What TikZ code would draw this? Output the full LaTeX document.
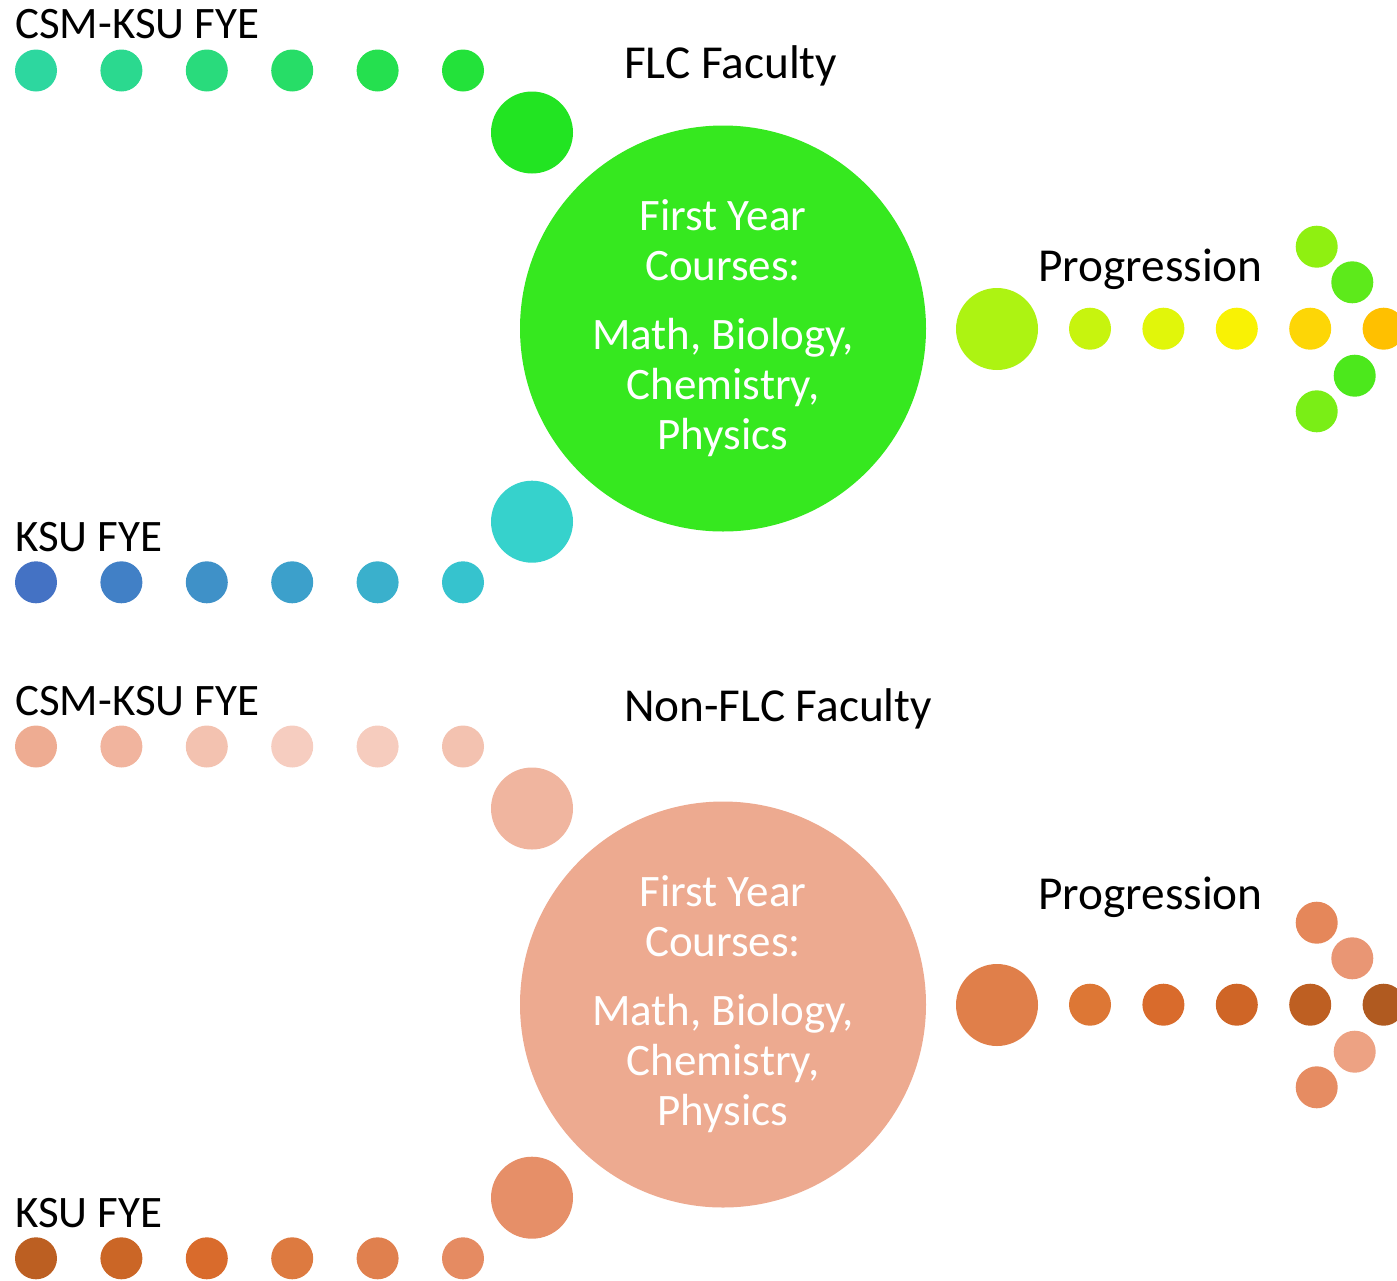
\documentclass[tikz,border=0pt]{standalone}
\usepackage{fontspec}
\setmainfont{Carlito}
\usepackage{tikz}
\usetikzlibrary{positioning}
% top panel
\definecolor{gA}{HTML}{2DD79F}
\definecolor{gB}{HTML}{2BD98F}
\definecolor{gC}{HTML}{29DB7C}
\definecolor{gD}{HTML}{27DD67}
\definecolor{gE}{HTML}{25E04F}
\definecolor{gF}{HTML}{23E23A}
\definecolor{gHub}{HTML}{22E422}
\definecolor{bA}{HTML}{4472C4}
\definecolor{bB}{HTML}{4180C6}
\definecolor{bC}{HTML}{3F91C8}
\definecolor{bD}{HTML}{3CA0CB}
\definecolor{bE}{HTML}{3AB0CC}
\definecolor{bF}{HTML}{36C3CE}
\definecolor{bHub}{HTML}{36D2CC}
\definecolor{flcMain}{HTML}{36E81F}
\definecolor{pHub}{HTML}{ADF312}
\definecolor{pA}{HTML}{C7F40E}
\definecolor{pB}{HTML}{E1F60A}
\definecolor{pC}{HTML}{F9F204}
\definecolor{pD}{HTML}{FDD606}
\definecolor{pE}{HTML}{FFC000}
\definecolor{pUo}{HTML}{8FF011}
\definecolor{pUi}{HTML}{5DEA1B}
\definecolor{pLi}{HTML}{4CE81C}
\definecolor{pLo}{HTML}{7AEE16}
% bottom panel
\definecolor{cA}{HTML}{EEAC92}
\definecolor{cB}{HTML}{F1B49E}
\definecolor{cC}{HTML}{F3C2B0}
\definecolor{cD}{HTML}{F6CDC0}
\definecolor{cE}{HTML}{F6CCBE}
\definecolor{cF}{HTML}{F3C2B0}
\definecolor{cHub}{HTML}{F0B59F}
\definecolor{kA}{HTML}{BC5F22}
\definecolor{kB}{HTML}{CB6626}
\definecolor{kC}{HTML}{D96B2C}
\definecolor{kD}{HTML}{DD7A40}
\definecolor{kE}{HTML}{E0804E}
\definecolor{kF}{HTML}{E58B62}
\definecolor{kHub}{HTML}{E68F68}
\definecolor{nonMain}{HTML}{EDAA90}
\definecolor{qHub}{HTML}{E07F4A}
\definecolor{qA}{HTML}{DD7735}
\definecolor{qB}{HTML}{D96B2C}
\definecolor{qC}{HTML}{CF6526}
\definecolor{qD}{HTML}{BE5F22}
\definecolor{qE}{HTML}{B05A20}
\definecolor{qUo}{HTML}{E5875A}
\definecolor{qUi}{HTML}{E99674}
\definecolor{qLi}{HTML}{EDA283}
\definecolor{qLo}{HTML}{E68C62}
\tikzstyle{dot}=[
	circle,
	inner sep=0,
	minimum size=42]
\tikzstyle{hub}=[
	circle,
	inner sep=0,
	minimum size=82]
\tikzstyle{course}=[
	circle,
	inner sep=0,
	minimum size=406,
	align=center,
	text=white,
	font=\fontsize{45}{50}\selectfont]
\tikzstyle{track}=[
	anchor=base west,
	inner sep=0,
	font=\fontsize{45}{50}\selectfont]
\tikzstyle{heading}=[
	anchor=base west,
	inner sep=0,
	font=\fontsize{47.3}{55}\selectfont]

\begin{document}
\begin{tikzpicture}[x=1pt,y=-1pt]
	\useasboundingbox (0,0) rectangle (1397,1280);
	\begin{scope}
		\begin{scope}[node distance=43]
			\node[dot,fill=gA]	(csmA)	at (36,70.5)	{};
			\node[dot,fill=gB]	(csmB)	[right=of csmA]	{};
			\node[dot,fill=gC]	(csmC)	[right=of csmB]	{};
			\node[dot,fill=gD]	(csmD)	[right=of csmC]	{};
			\node[dot,fill=gE]	(csmE)	[right=of csmD]	{};
			\node[dot,fill=gF]	(csmF)	[right=of csmE]	{};
			\node[dot,fill=bA]	(ksuA)	at (36,582.3)	{};
			\node[dot,fill=bB]	(ksuB)	[right=of ksuA]	{};
			\node[dot,fill=bC]	(ksuC)	[right=of ksuB]	{};
			\node[dot,fill=bD]	(ksuD)	[right=of ksuC]	{};
			\node[dot,fill=bE]	(ksuE)	[right=of ksuD]	{};
			\node[dot,fill=bF]	(ksuF)	[right=of ksuE]	{};
		\end{scope}
		\node[hub,fill=gHub]	(csmhub)	at (532,132.5)	{};
		\node[hub,fill=bHub]	(ksuhub)	at (532,521.7)	{};
		\node[course,fill=flcMain]	(flc)	at (723,328.5)	{First Year\\Courses:\\[19pt]Math, Biology,\\Chemistry,\\Physics};
		\node[hub,fill=pHub]	(proghub)	at (997,329)	{};
		\begin{scope}[node distance=31]
			\node[dot,fill=pA]	(progA)	at (1090,328.7)	{};
			\node[dot,fill=pB]	(progB)	[right=of progA]	{};
			\node[dot,fill=pC]	(progC)	[right=of progB]	{};
			\node[dot,fill=pD]	(progD)	[right=of progC]	{};
			\node[dot,fill=pE]	(progE)	[right=of progD]	{};
		\end{scope}
		\node[dot,fill=pUo]	(tipUo)	at (1316.7,246.7)	{};
		\node[dot,fill=pUi]	(tipUi)	at (1352.3,282.3)	{};
		\node[dot,fill=pLi]	(tipLi)	at (1354.7,375.7)	{};
		\node[dot,fill=pLo]	(tipLo)	at (1316.7,411.3)	{};
	\end{scope}
	\begin{scope}[yshift=-676pt]
		\begin{scope}[node distance=43]
			\node[dot,fill=cA]	(ncsmA)	at (36,70.5)	{};
			\node[dot,fill=cB]	(ncsmB)	[right=of ncsmA]	{};
			\node[dot,fill=cC]	(ncsmC)	[right=of ncsmB]	{};
			\node[dot,fill=cD]	(ncsmD)	[right=of ncsmC]	{};
			\node[dot,fill=cE]	(ncsmE)	[right=of ncsmD]	{};
			\node[dot,fill=cF]	(ncsmF)	[right=of ncsmE]	{};
			\node[dot,fill=kA]	(nksuA)	at (36,582.3)	{};
			\node[dot,fill=kB]	(nksuB)	[right=of nksuA]	{};
			\node[dot,fill=kC]	(nksuC)	[right=of nksuB]	{};
			\node[dot,fill=kD]	(nksuD)	[right=of nksuC]	{};
			\node[dot,fill=kE]	(nksuE)	[right=of nksuD]	{};
			\node[dot,fill=kF]	(nksuF)	[right=of nksuE]	{};
		\end{scope}
		\node[hub,fill=cHub]	(ncsmhub)	at (532,132.5)	{};
		\node[hub,fill=kHub]	(nksuhub)	at (532,521.7)	{};
		\node[course,fill=nonMain]	(nonflc)	at (723,328.5)	{First Year\\Courses:\\[19pt]Math, Biology,\\Chemistry,\\Physics};
		\node[hub,fill=qHub]	(nproghub)	at (997,329)	{};
		\begin{scope}[node distance=31]
			\node[dot,fill=qA]	(nprogA)	at (1090,328.7)	{};
			\node[dot,fill=qB]	(nprogB)	[right=of nprogA]	{};
			\node[dot,fill=qC]	(nprogC)	[right=of nprogB]	{};
			\node[dot,fill=qD]	(nprogD)	[right=of nprogC]	{};
			\node[dot,fill=qE]	(nprogE)	[right=of nprogD]	{};
		\end{scope}
		\node[dot,fill=qUo]	(ntipUo)	at (1316.7,246.7)	{};
		\node[dot,fill=qUi]	(ntipUi)	at (1352.3,282.3)	{};
		\node[dot,fill=qLi]	(ntipLi)	at (1354.7,375.7)	{};
		\node[dot,fill=qLo]	(ntipLo)	at (1316.7,411.3)	{};
	\end{scope}
	% labels
	\node[track]	(csmtext)	at (15,38)	{CSM-KSU FYE};
	\node[track]	(ksutext)	at (15,551)	{KSU FYE};
	\node[track]	(ncsmtext)	at (15,715)	{CSM-KSU FYE};
	\node[track]	(nksutext)	at (15,1227)	{KSU FYE};
	\node[heading]	(flctext)	at (624,78)	{FLC Faculty};
	\node[heading]	(nonflctext)	at (624,721)	{Non-FLC Faculty};
	\node[heading]	(progtext)	at (1038,281)	{Progression};
	\node[heading]	(nprogtext)	at (1038,909)	{Progression};
\end{tikzpicture}
\end{document}
